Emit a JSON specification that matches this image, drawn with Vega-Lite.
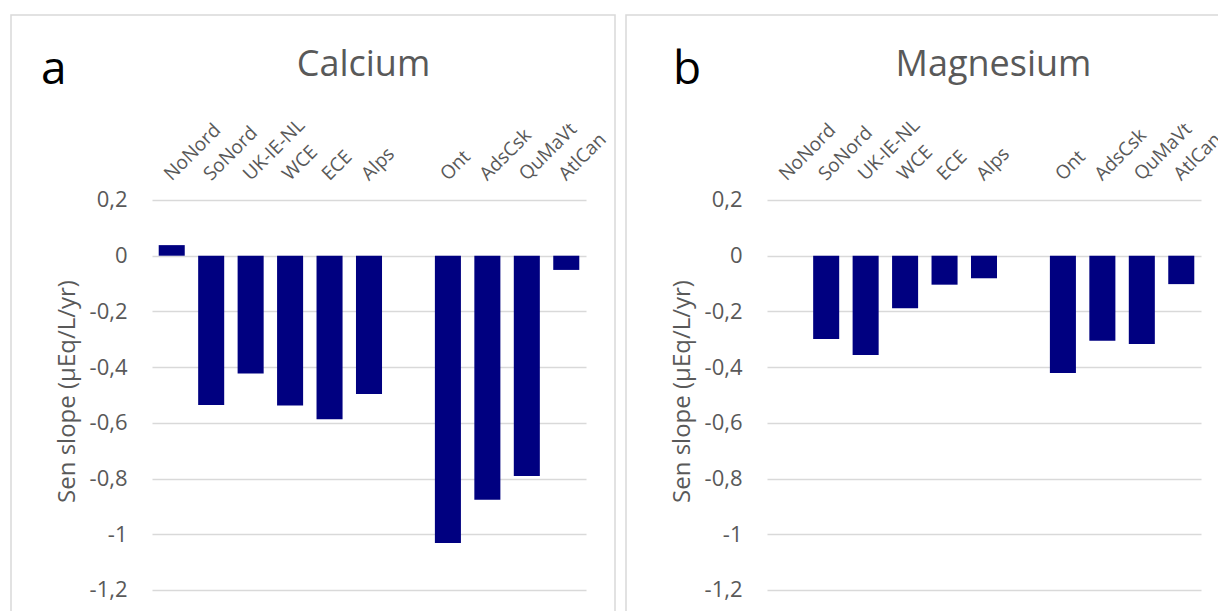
{
  "$schema": "https://vega.github.io/schema/vega-lite/v6.json",
  "background": "white",
  "padding": {"left": 10, "top": 14, "right": 0, "bottom": 0},
  "data": {
    "values": [
      {"element": "Calcium", "region": "NoNord", "value": 0.038},
      {"element": "Calcium", "region": "SoNord", "value": -0.536},
      {"element": "Calcium", "region": "UK-IE-NL", "value": -0.423},
      {"element": "Calcium", "region": "WCE", "value": -0.538},
      {"element": "Calcium", "region": "ECE", "value": -0.587},
      {"element": "Calcium", "region": "Alps", "value": -0.496},
      {"element": "Calcium", "region": "Ont", "value": -1.031},
      {"element": "Calcium", "region": "AdsCsk", "value": -0.876},
      {"element": "Calcium", "region": "QuMaVt", "value": -0.791},
      {"element": "Calcium", "region": "AtlCan", "value": -0.051},
      {"element": "Magnesium", "region": "SoNord", "value": -0.299},
      {"element": "Magnesium", "region": "UK-IE-NL", "value": -0.356},
      {"element": "Magnesium", "region": "WCE", "value": -0.189},
      {"element": "Magnesium", "region": "ECE", "value": -0.104},
      {"element": "Magnesium", "region": "Alps", "value": -0.081},
      {"element": "Magnesium", "region": "Ont", "value": -0.421},
      {"element": "Magnesium", "region": "AdsCsk", "value": -0.305},
      {"element": "Magnesium", "region": "QuMaVt", "value": -0.317},
      {"element": "Magnesium", "region": "AtlCan", "value": -0.102}
    ]
  },
  "spacing": 11,
  "bounds": "flush",
  "hconcat": [
    {
      "width": 604,
      "height": 598,
      "title": {"text": "a", "anchor": "start", "frame": "group", "dx": 30, "offset": -115, "baseline": "alphabetic", "fontSize": 46, "fontWeight": "normal", "color": "#000000"},
      "transform": [{"filter": "datum.element === 'Calcium'"}],
      "mark": {"type": "bar", "color": "#000080"},
      "encoding": {
        "x": {
          "field": "region", "type": "nominal",
          "scale": {"domain": ["NoNord", "SoNord", "UK-IE-NL", "WCE", "ECE", "Alps", "gap", "Ont", "AdsCsk", "QuMaVt", "AtlCan"], "range": [141, 575], "paddingInner": 0.34, "paddingOuter": 0.17},
          "axis": {"orient": "top", "offset": -185, "title": "Calcium", "titleX": 352, "titleY": -125, "titleBaseline": "alphabetic", "titleAlign": "center", "titleAngle": 0, "titleFontSize": 36, "titleColor": "#595959", "titleFontWeight": "normal",
                   "labelAngle": -45, "labelAlign": "left", "labelBaseline": "alphabetic", "labelPadding": 19, "ticks": false, "tickSize": 0, "domain": false, "grid": false,
                   "labelFontSize": 19, "labelColor": "#595959", "labelOverlap": false, "labelExpr": "datum.value === 'gap' ? '' : datum.value"}
        },
        "y": {
          "field": "value", "type": "quantitative",
          "scale": {"domain": [-1.2826, 0.8641], "nice": false, "zero": true},
          "axis": {"offset": -141, "title": "Sen slope (µEq/L/yr)", "values": [-1.2, -1, -0.8, -0.6, -0.4, -0.2, 0, 0.2],
                   "labelExpr": "replace(replace(format(datum.value, '.1~f'), '.', ','), '−', '-')",
                   "grid": true, "gridColor": "#d9d9d9", "gridWidth": 1.5, "domain": false, "ticks": false, "tickSize": 0, "labelPadding": 25,
                   "labelFontSize": 22, "labelColor": "#595959", "titleFontSize": 24, "titleColor": "#595959", "titleFontWeight": "normal", "titleX": -73, "titleY": 376, "titleBaseline": "bottom"}
        }
      }
    },
    {
      "width": 604,
      "height": 598,
      "title": {"text": "b", "anchor": "start", "frame": "group", "dx": 47, "offset": -115, "baseline": "alphabetic", "fontSize": 46, "fontWeight": "normal", "color": "#000000"},
      "transform": [{"filter": "datum.element === 'Magnesium'"}],
      "mark": {"type": "bar", "color": "#000080"},
      "encoding": {
        "x": {
          "field": "region", "type": "nominal",
          "scale": {"domain": ["NoNord", "SoNord", "UK-IE-NL", "WCE", "ECE", "Alps", "gap", "Ont", "AdsCsk", "QuMaVt", "AtlCan"], "range": [141, 575], "paddingInner": 0.34, "paddingOuter": 0.17},
          "axis": {"orient": "top", "offset": -185, "title": "Magnesium", "titleX": 367, "titleY": -125, "titleBaseline": "alphabetic", "titleAlign": "center", "titleAngle": 0, "titleFontSize": 36, "titleColor": "#595959", "titleFontWeight": "normal",
                   "labelAngle": -45, "labelAlign": "left", "labelBaseline": "alphabetic", "labelPadding": 19, "ticks": false, "tickSize": 0, "domain": false, "grid": false,
                   "labelFontSize": 19, "labelColor": "#595959", "labelOverlap": false, "labelExpr": "datum.value === 'gap' ? '' : datum.value"}
        },
        "y": {
          "field": "value", "type": "quantitative",
          "scale": {"domain": [-1.2826, 0.8641], "nice": false, "zero": true},
          "axis": {"offset": -141, "title": "Sen slope (µEq/L/yr)", "values": [-1.2, -1, -0.8, -0.6, -0.4, -0.2, 0, 0.2],
                   "labelExpr": "replace(replace(format(datum.value, '.1~f'), '.', ','), '−', '-')",
                   "grid": true, "gridColor": "#d9d9d9", "gridWidth": 1.5, "domain": false, "ticks": false, "tickSize": 0, "labelPadding": 25,
                   "labelFontSize": 22, "labelColor": "#595959", "titleFontSize": 24, "titleColor": "#595959", "titleFontWeight": "normal", "titleX": -73, "titleY": 376, "titleBaseline": "bottom"}
        }
      }
    }
  ],
  "config": {
    "font": "Open Sans",
    "view": {"stroke": "#d9d9d9", "strokeWidth": 1.5}
  }
}
